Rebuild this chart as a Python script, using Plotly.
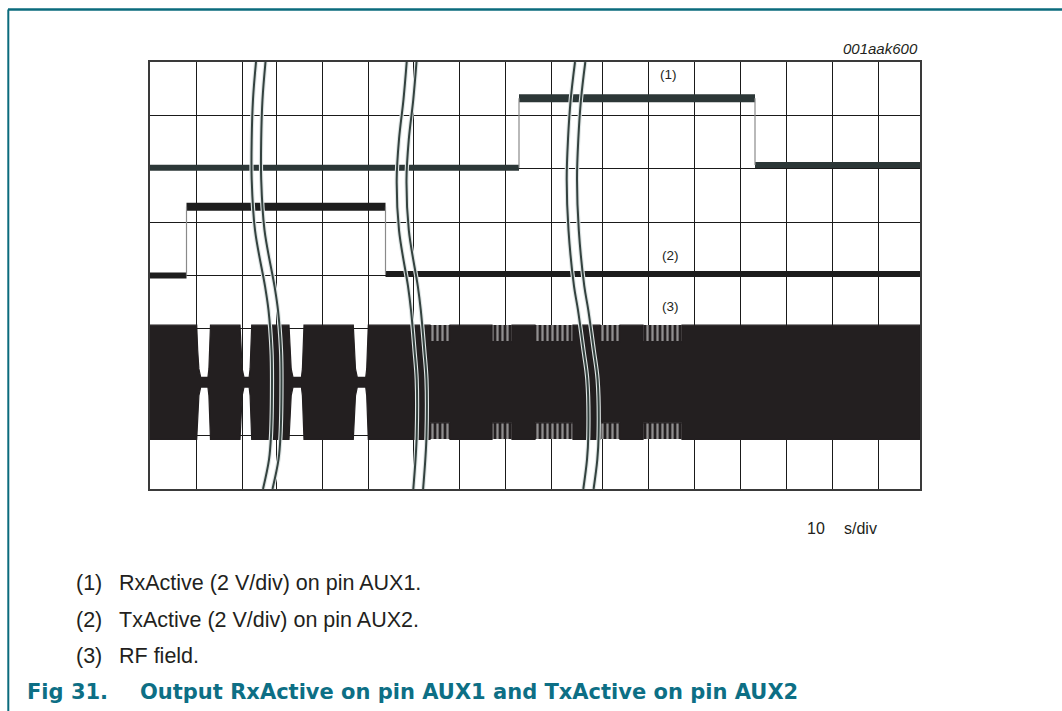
import plotly.graph_objects as go

# ---------------- data (graticule units: x 0..770, y in vertical divisions 0..8) ----------------
grid_x = [0, 46.5, 92.5, 126, 172, 218, 263, 309, 355.5, 401, 452, 498, 544, 590, 636, 682, 728, 770]

# (1) RxActive step levels
rx_edges = [0, 369, 605, 770]
rx_levels = [6.02, 7.32, 6.07]
# (2) TxActive step levels
tx_edges = [0, 36.5, 235.5, 770]
tx_levels = [4.00, 5.29, 4.03]

# (3) RF field envelope
rf_center = 2.0
rf_amp = 1.07
rf_notch_amp = 0.09
rf_notches = [(46.7, 60.5), (90.0, 101.7), (139.0, 154.0), (203.3, 218.3)]
# striated (modulated) groups along the envelope edges
rf_stripe_groups = [(280, 300), (342, 362), (385, 423), (450, 470), (493, 532)]
rf_stripe_inner = 0.76

# time-break curves (three pairs)
brk_y = [8.0, 7.3, 6.55, 5.8, 4.85, 3.8, 3.35, 2.6, 2.05, 1.0, 0.55, 0.0]
brk_x = [
    [106, 103, 101.7, 101.7, 105, 115, 118.5, 121.5, 122, 121, 119, 113],
    [256.7, 253.5, 249, 246.7, 249, 258, 261, 264.5, 266.7, 266.7, 265.5, 263.3],
    [425, 420.7, 418, 416.7, 418.5, 424, 428, 433.5, 437.3, 438.3, 437, 433.3],
]
brk_gap = [9.5, 9.8, 10.3]

labels = [("(1)", 518, 7.76), ("(2)", 520, 4.38), ("(3)", 520, 3.41)]
fig_code = "001aak600"
time_value = "10"
time_unit = "s/div"
captions = [("(1)", "RxActive (2 V/div) on pin AUX1."),
            ("(2)", "TxActive (2 V/div) on pin AUX2."),
            ("(3)", "RF field.")]
title_num = "Fig 31."
title_text = "Output RxActive on pin AUX1 and TxActive on pin AUX2"

# ---------------- figure ----------------
W, H = 1062, 711
L, R, T, B = 150, 142, 62, 222
PW, PH = W - L - R, H - T - B


def px(xp):
    return (xp - L) / PW


def py(yp):
    return (H - B - yp) / PH


fig = go.Figure()

# RF envelope polygon (top edge left->right, then mirrored bottom edge)
top_x, top_y = [0], [rf_center + rf_amp]
for a, b in rf_notches:
    pts = [(a, rf_amp), (a + 1.0, 0.6), (a + 2.2, 0.25), (a + 4.0, rf_notch_amp),
           (b - 2.6, rf_notch_amp), (b - 1.6, 0.25), (b - 0.8, 0.6), (b, rf_amp)]
    for xx, aa in pts:
        top_x.append(xx)
        top_y.append(rf_center + aa)
for a, b in rf_stripe_groups:
    for xx, aa in [(a, rf_amp), (a, rf_stripe_inner), (b, rf_stripe_inner), (b, rf_amp)]:
        top_x.append(xx)
        top_y.append(rf_center + aa)
top_x.append(770)
top_y.append(rf_center + rf_amp)
bot_x = top_x[::-1]
bot_y = [2 * rf_center - v for v in top_y[::-1]]
fig.add_trace(go.Scatter(x=top_x + bot_x, y=top_y + bot_y, mode="lines",
                         fill="toself", fillcolor="#231f20",
                         line=dict(color="#231f20", width=1.2), hoverinfo="skip"))

# striations on envelope edges (patterned bars)
sc = [(a + b) / 2 for a, b in rf_stripe_groups]
sw = [b - a for a, b in rf_stripe_groups]
hgt = rf_amp - rf_stripe_inner
for base in (rf_center + rf_stripe_inner, rf_center - rf_amp):
    fig.add_trace(go.Bar(x=sc, y=[hgt] * len(sc), base=[base] * len(sc), width=sw,
                         marker=dict(color="#231f20", line=dict(width=0),
                                     pattern=dict(shape="|", fgcolor="#ffffff", bgcolor="#231f20",
                                                  size=5, solidity=0.45)),
                         hoverinfo="skip"))


def step_traces(edges, levels, color, widths):
    for i, lv in enumerate(levels):
        fig.add_trace(go.Scatter(x=[edges[i], edges[i + 1]], y=[lv, lv], mode="lines",
                                 line=dict(color=color, width=widths[i]), hoverinfo="skip"))
    ex, ey = [], []
    for i in range(1, len(levels)):
        ex += [edges[i], edges[i], None]
        ey += [levels[i - 1], levels[i], None]
    fig.add_trace(go.Scatter(x=ex, y=ey, mode="lines",
                             line=dict(color="#8a8a8a", width=1.2), hoverinfo="skip"))


step_traces(rx_edges, rx_levels, "#2c3737", [6, 8, 6])
step_traces(tx_edges, tx_levels, "#1d1d1d", [6, 8, 6])

# time-break curves
for xs, gap in zip(brk_x, brk_gap):
    for off in (0, gap):
        cx = [v + off for v in xs]
        fig.add_trace(go.Scatter(x=cx, y=brk_y, mode="lines", line_shape="spline",
                                 line=dict(color="#dfe5e5", width=4.2), hoverinfo="skip"))
        fig.add_trace(go.Scatter(x=cx, y=brk_y, mode="lines", line_shape="spline",
                                 line=dict(color="#34423f", width=2.0), hoverinfo="skip"))

fnt = "Liberation Sans, Arial, sans-serif"
tfnt = "DejaVu Sans, Liberation Sans, Arial, sans-serif"
ink = "#231f20"
ann = []
for t, x, y in labels:
    ann.append(dict(text=t, x=x, y=y, xref="x", yref="y", showarrow=False,
                    xanchor="center", yanchor="middle",
                    font=dict(family=fnt, size=13.5, color=ink)))
ann.append(dict(text=fig_code, x=1.0, y=py(49), xref="paper", yref="paper",
                xanchor="right", yanchor="middle", showarrow=False,
                font=dict(family=fnt, size=15, color=ink, style="italic")))
ann.append(dict(text=time_value, x=px(805), y=py(528), xref="paper", yref="paper",
                xanchor="left", yanchor="middle", showarrow=False,
                font=dict(family=fnt, size=16, color=ink)))
ann.append(dict(text=time_unit, x=px(842), y=py(528), xref="paper", yref="paper",
                xanchor="left", yanchor="middle", showarrow=False,
                font=dict(family=fnt, size=16, color=ink)))
for i, (num, txt) in enumerate(captions):
    yy = py([583, 620, 656][i])
    ann.append(dict(text=num, x=px(74), y=yy, xref="paper", yref="paper",
                    xanchor="left", yanchor="middle", showarrow=False,
                    font=dict(family=fnt, size=21.5, color=ink)))
    ann.append(dict(text=txt, x=px(117), y=yy, xref="paper", yref="paper",
                    xanchor="left", yanchor="middle", showarrow=False,
                    font=dict(family=fnt, size=21.5, color=ink)))
teal = "#0d6f85"
ann.append(dict(text="<b>" + title_num + "</b>", x=px(25), y=py(692), xref="paper", yref="paper",
                xanchor="left", yanchor="middle", showarrow=False,
                font=dict(family=tfnt, size=21, color=teal)))
ann.append(dict(text="<b>" + title_text + "</b>", x=px(138), y=py(692), xref="paper", yref="paper",
                xanchor="left", yanchor="middle", showarrow=False,
                font=dict(family=tfnt, size=21, color=teal)))

shapes = [
    dict(type="line", xref="paper", yref="paper", x0=px(8), x1=px(1062), y0=py(9.5), y1=py(9.5),
         line=dict(color="#0b6b7d", width=2.5)),
    dict(type="line", xref="paper", yref="paper", x0=px(8.3), x1=px(8.3), y0=py(9.5), y1=py(711),
         line=dict(color="#0b6b7d", width=2)),
]

fig.update_layout(
    width=W, height=H, margin=dict(l=L, r=R, t=T, b=B),
    paper_bgcolor="white", plot_bgcolor="white", showlegend=False,
    barmode="overlay", bargap=0, annotations=ann, shapes=shapes,
    xaxis=dict(range=[0, 770], tickvals=grid_x, showticklabels=False, ticks="",
               showgrid=True, gridcolor="#1a1a1a", gridwidth=1.3, zeroline=False,
               showline=True, linecolor="#3a3a3a", linewidth=1.6, mirror=True, fixedrange=True),
    yaxis=dict(range=[0, 8], dtick=1, showticklabels=False, ticks="",
               showgrid=True, gridcolor="#1a1a1a", gridwidth=1.3, zeroline=False,
               showline=True, linecolor="#3a3a3a", linewidth=1.6, mirror=True, fixedrange=True),
)

fig.write_html("out.html", config={"displayModeBar": False},
               post_script="document.body.style.margin='0';document.body.style.padding='0';")
